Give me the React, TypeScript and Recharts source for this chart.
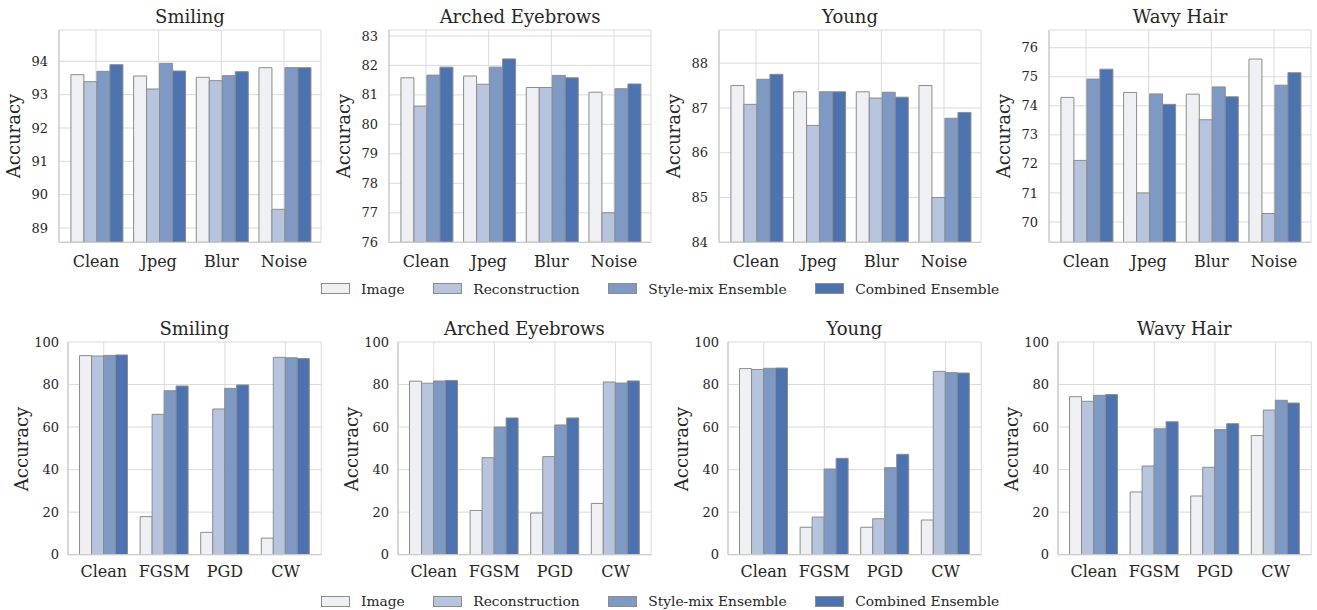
import React from 'react';
import { BarChart, Bar, XAxis, YAxis, CartesianGrid } from 'recharts';

// categories
const corruptions = ['Clean', 'Jpeg', 'Blur', 'Noise'];
const attacks = ['Clean', 'FGSM', 'PGD', 'CW'];
const seriesNames = ['Image', 'Reconstruction', 'Style-mix Ensemble', 'Combined Ensemble'];
const seriesColors = ['#eff0f3', '#b7c4de', '#7e99c4', '#4c72b0'];

// rows: Image, Reconstruction, Style-mix, Combined
const smilingCorruption = [
    [93.6, 93.56, 93.52, 93.81],
    [93.39, 93.17, 93.42, 89.56],
    [93.7, 93.94, 93.57, 93.81],
    [93.9, 93.71, 93.69, 93.81],
];
const archedCorruption = [
    [81.58, 81.64, 81.25, 81.09],
    [80.62, 81.36, 81.25, 77.0],
    [81.67, 81.94, 81.66, 81.21],
    [81.94, 82.22, 81.58, 81.37],
];
const youngCorruption = [
    [87.5, 87.36, 87.36, 87.5],
    [87.08, 86.61, 87.22, 85.0],
    [87.64, 87.36, 87.35, 86.77],
    [87.75, 87.36, 87.24, 86.9],
];
const wavyCorruption = [
    [74.29, 74.46, 74.4, 75.61],
    [72.12, 71.0, 73.52, 70.29],
    [74.92, 74.41, 74.65, 74.71],
    [75.26, 74.05, 74.31, 75.14],
];

const smilingAttack = [
    [93.6, 17.9, 10.5, 7.8],
    [93.39, 66.0, 68.5, 92.8],
    [93.7, 77.1, 78.2, 92.6],
    [93.9, 79.3, 79.8, 92.2],
];
const archedAttack = [
    [81.58, 20.8, 19.6, 24.1],
    [80.62, 45.6, 46.1, 81.2],
    [81.67, 60.0, 61.0, 80.7],
    [81.94, 64.3, 64.3, 81.7],
];
const youngAttack = [
    [87.5, 12.9, 12.9, 16.3],
    [87.08, 17.7, 16.9, 86.2],
    [87.64, 40.3, 40.9, 85.6],
    [87.75, 45.3, 47.2, 85.4],
];
const wavyAttack = [
    [74.29, 29.5, 27.6, 56.0],
    [72.12, 41.7, 41.1, 68.0],
    [74.92, 59.2, 58.8, 72.6],
    [75.26, 62.5, 61.6, 71.3],
];

// y axis ranges and ticks
const smilingCorrDomain = [88.57, 94.94];
const smilingCorrTicks = [89, 90, 91, 92, 93, 94];
const archedCorrDomain = [76, 83.2];
const archedCorrTicks = [76, 77, 78, 79, 80, 81, 82, 83];
const youngCorrDomain = [84, 88.74];
const youngCorrTicks = [84, 85, 86, 87, 88];
const wavyCorrDomain = [69.3, 76.61];
const wavyCorrTicks = [70, 71, 72, 73, 74, 75, 76];
const attackDomain = [0, 100];
const attackTicks = [0, 20, 40, 60, 80, 100];

const FONT = '"DejaVu Serif", serif';
const TEXT = '#262626';
const EDGE = '#8c8c8c';
const SPINE = '#cccccc';
const GRID = '#dadada';

interface PanelProps {
    title: string;
    categories: string[];
    values: number[][];
    domain: number[];
    ticks: number[];
    left: number;
    top: number;
    width: number;
    height: number;
    yGap: number;
    xGap: number;
}

function Panel({ title, categories, values, domain, ticks, left, top, width, height, yGap, xGap }: PanelProps) {
    const data = categories.map((c, i) => ({
        name: c,
        s0: values[0][i],
        s1: values[1][i],
        s2: values[2][i],
        s3: values[3][i],
    }));
    const yw = 60;
    const mt = 12;
    const mr = 2;
    const xh = 32;
    // matplotlib default 5% margin around the bars
    const pad = (width * 0.09) / 4.18;

    return (
        <>
            <div
                style={{
                    position: 'absolute',
                    left: left,
                    top: top - 22.5,
                    width: width,
                    textAlign: 'center',
                    fontFamily: FONT,
                    fontSize: 18,
                    lineHeight: '18px',
                    color: TEXT,
                    whiteSpace: 'nowrap',
                    zIndex: 2,
                }}
            >
                {title}
            </div>
            <div
                style={{
                    position: 'absolute',
                    left: left - 45.5,
                    top: top + height / 2,
                    transform: 'translate(-50%, -50%) rotate(-90deg)',
                    fontFamily: FONT,
                    fontSize: 18,
                    lineHeight: '18px',
                    color: TEXT,
                    whiteSpace: 'nowrap',
                }}
            >
                Accuracy
            </div>
            <div style={{ position: 'absolute', left: left - yw, top: top - mt }}>
                <BarChart
                    width={yw + width + mr}
                    height={mt + height + xh}
                    data={data}
                    margin={{ top: mt, right: mr, left: 0, bottom: 0 }}
                    barCategoryGap="10%"
                    barGap={0}
                    style={{ fontFamily: FONT }}
                >
                    <CartesianGrid stroke={GRID} strokeWidth={1} />
                    <XAxis
                        dataKey="name"
                        height={xh}
                        padding={{ left: pad, right: pad }}
                        tickSize={0}
                        tickMargin={xGap}
                        tick={{ fontSize: 16, fill: TEXT, fontFamily: FONT }}
                        axisLine={{ stroke: SPINE, strokeWidth: 1.3 }}
                        interval={0}
                    />
                    <XAxis
                        xAxisId="top"
                        orientation="top"
                        dataKey="name"
                        height={0}
                        tick={false}
                        tickLine={false}
                        axisLine={{ stroke: SPINE, strokeWidth: 1.3 }}
                    />
                    <YAxis
                        type="number"
                        width={yw}
                        domain={domain}
                        ticks={ticks}
                        allowDataOverflow
                        tickSize={0}
                        tickMargin={yGap}
                        tick={{ fontSize: 13, fill: TEXT, fontFamily: FONT }}
                        axisLine={{ stroke: SPINE, strokeWidth: 1.3 }}
                        interval={0}
                    />
                    <YAxis
                        yAxisId="right"
                        orientation="right"
                        width={0}
                        tick={false}
                        tickLine={false}
                        axisLine={{ stroke: SPINE, strokeWidth: 1.3 }}
                    />
                    {seriesNames.map((s, i) => (
                        <Bar
                            key={s}
                            dataKey={'s' + i}
                            name={s}
                            fill={seriesColors[i]}
                            stroke={EDGE}
                            strokeWidth={1}
                            isAnimationActive={false}
                        />
                    ))}
                </BarChart>
            </div>
        </>
    );
}

function Legend({ top }: { top: number }) {
    return (
        <div
            style={{
                position: 'absolute',
                left: 321,
                top: top,
                height: 16,
                display: 'flex',
                alignItems: 'center',
                fontFamily: FONT,
                fontSize: 13.8,
                color: TEXT,
                whiteSpace: 'nowrap',
            }}
        >
            {seriesNames.map((s, i) => (
                <div key={s} style={{ display: 'flex', alignItems: 'center', marginRight: 28.5 }}>
                    <div
                        style={{
                            width: 27,
                            height: 9,
                            background: seriesColors[i],
                            border: '1px solid ' + EDGE,
                            marginRight: 11,
                        }}
                    />
                    <span style={{ fontFamily: FONT }}>{s}</span>
                </div>
            ))}
        </div>
    );
}

const topLefts = [59, 389, 719, 1049];
const bottomLefts = [67.7, 397.7, 727.7, 1057.7];

export default function App() {
    return (
        <div
            style={{
                position: 'absolute',
                left: 0,
                top: 0,
                width: 1317,
                height: 610,
                background: 'white',
                fontFamily: FONT,
                overflow: 'hidden',
            }}
        >
            <Panel title="Smiling" categories={corruptions} values={smilingCorruption} domain={smilingCorrDomain} ticks={smilingCorrTicks}
                left={topLefts[0]} top={30} width={262} height={212.3} yGap={11} xGap={13} />
            <Panel title="Arched Eyebrows" categories={corruptions} values={archedCorruption} domain={archedCorrDomain} ticks={archedCorrTicks}
                left={topLefts[1]} top={30} width={262} height={212.3} yGap={11} xGap={13} />
            <Panel title="Young" categories={corruptions} values={youngCorruption} domain={youngCorrDomain} ticks={youngCorrTicks}
                left={topLefts[2]} top={30} width={262} height={212.3} yGap={11} xGap={13} />
            <Panel title="Wavy Hair" categories={corruptions} values={wavyCorruption} domain={wavyCorrDomain} ticks={wavyCorrTicks}
                left={topLefts[3]} top={30} width={262} height={212.3} yGap={11} xGap={13} />
            <Legend top={280.5} />

            <Panel title="Smiling" categories={attacks} values={smilingAttack} domain={attackDomain} ticks={attackTicks}
                left={bottomLefts[0]} top={342.3} width={253.3} height={212.7} yGap={9} xGap={11.3} />
            <Panel title="Arched Eyebrows" categories={attacks} values={archedAttack} domain={attackDomain} ticks={attackTicks}
                left={bottomLefts[1]} top={342.3} width={253.3} height={212.7} yGap={9} xGap={11.3} />
            <Panel title="Young" categories={attacks} values={youngAttack} domain={attackDomain} ticks={attackTicks}
                left={bottomLefts[2]} top={342.3} width={253.3} height={212.7} yGap={9} xGap={11.3} />
            <Panel title="Wavy Hair" categories={attacks} values={wavyAttack} domain={attackDomain} ticks={attackTicks}
                left={bottomLefts[3]} top={342.3} width={253.3} height={212.7} yGap={9} xGap={11.3} />
            <Legend top={593} />
        </div>
    );
}
